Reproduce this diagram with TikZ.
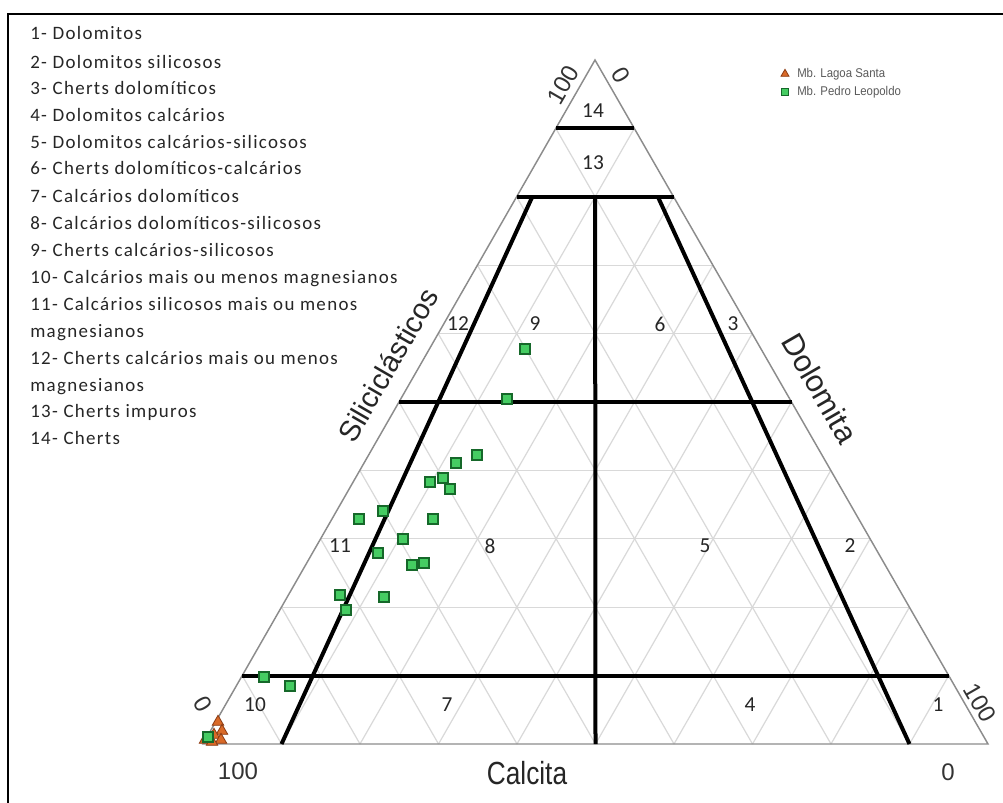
\documentclass[tikz,border=0pt]{standalone}
\usepackage{fontspec}
\setmainfont{Carlito}
\newfontfamily\legf[LetterSpace=7]{Carlito}
\newfontfamily\arialf{Liberation Sans}
\usetikzlibrary{shapes.geometric}
\definecolor{gridc}{HTML}{D9D9D9}
\definecolor{edgec}{HTML}{8C8C8C}
\definecolor{gfill}{HTML}{45CC62}
\definecolor{gdraw}{HTML}{16682A}
\definecolor{ofill}{HTML}{D96A28}
\definecolor{odraw}{HTML}{8A3A12}
\definecolor{legtxt}{HTML}{5A5A5A}
\tikzset{
  gridline/.style={draw=gridc, line width=0.9pt},
  edgeline/.style={draw=edgec, line width=1.1pt},
  bound/.style={draw=black, line width=3pt},
  legitem/.style={anchor=base west, inner sep=0pt, font=\legf\fontsize{14.2}{16}\selectfont, text=black!85},
  region/.style={inner sep=0pt, font=\fontsize{16}{18}\selectfont, text=black!85},
  axislab/.style={inner sep=0pt, font=\arialf\fontsize{24}{26}\selectfont, text=black!85},
  ticklab/.style={inner sep=0pt, font=\arialf\fontsize{18}{20}\selectfont, text=black!80},
  gpt/.style={rectangle, minimum size=7.8pt, inner sep=0pt, fill=gfill, draw=gdraw, line width=1.4pt},
  opt/.style={regular polygon, regular polygon sides=3, minimum size=10pt, inner sep=0pt, fill=ofill, draw=odraw, line width=0.6pt},
  smalllab/.style={anchor=west, inner sep=0pt, font=\arialf\fontsize{9.5}{11}\selectfont, text=legtxt, xscale=0.9}
}
\begin{document}
\begin{tikzpicture}[x=0.75pt,y=-0.75pt]
\useasboundingbox (0,0) rectangle (1003,803);
\fill[white] (0,0) rectangle (1003,803);
% frame
\draw[line width=2pt] (8,803) -- (8,14) -- (1003,14);

% legend
\foreach \yy/\tt in {39/{1- Dolomitos},68/{2- Dolomitos silicosos},94/{3- Cherts dolomíticos},121/{4- Dolomitos calcários},148/{5- Dolomitos calcários-silicosos},174/{6- Cherts dolomíticos-calcários},202/{7- Calcários dolomíticos},229/{8- Calcários dolomíticos-silicosos},256/{9- Cherts calcários-silicosos},283/{10- Calcários mais ou menos magnesianos},310/{11- Calcários silicosos mais ou menos},337/{magnesianos},364/{12- Cherts calcários mais ou menos},391/{magnesianos},417/{13- Cherts impuros},444/{14- Cherts}}
  \node[legitem] at (30,\yy) {\tt};

% triangle vertices
\coordinate (L) at (203,744);
\coordinate (R) at (988,744);
\coordinate (A) at (595,60);

% grid
\foreach \v in {0.1,0.2,0.3,0.4,0.5,0.6,0.7,0.8,0.9}{
  \pgfmathsetmacro\w{1-\v}
  \draw[gridline] (barycentric cs:A=\v,L=\w) -- (barycentric cs:A=\v,R=\w);
  \draw[gridline] (barycentric cs:R=\v,L=\w) -- (barycentric cs:R=\v,A=\w);
  \draw[gridline] (barycentric cs:L=\v,R=\w) -- (barycentric cs:L=\v,A=\w);
}
% outline
\draw[edgeline] (L) -- (R) -- (A) -- cycle;

% thick boundaries
\foreach \v in {0.9,0.8,0.5,0.1}{
  \pgfmathsetmacro\w{1-\v}
  \draw[bound] (barycentric cs:A=\v,L=\w) -- (barycentric cs:A=\v,R=\w);
}
\draw[bound] (barycentric cs:A=0.8,L=0.1,R=0.1) -- (barycentric cs:L=0.5,R=0.5);
\draw[bound] (barycentric cs:A=0.8,L=0.18,R=0.02) -- (barycentric cs:L=0.9,R=0.1);
\draw[bound] (barycentric cs:A=0.8,L=0.02,R=0.18) -- (barycentric cs:L=0.1,R=0.9);

% region numbers
\node[region] (r14) at (593,111) {14};
\node[region] (r13) at (593,163) {13};
\node[region] (r12) at (458,324) {12};
\node[region] (r9) at (535,324) {9};
\node[region] (r6) at (660,324) {6};
\node[region] (r3) at (733,324) {3};
\node[region] (r11) at (340,546) {11};
\node[region] (r8) at (490,546) {8};
\node[region] (r5) at (705,546) {5};
\node[region] (r2) at (850,546) {2};
\node[region] (r10) at (255,705) {10};
\node[region] (r7) at (447,705) {7};
\node[region] (r4) at (750,705) {4};
\node[region] (r1) at (938,705) {1};

% axis labels
\node[axislab, xscale=0.82] (calc) at (527,773) {Calcita};
\node[axislab, rotate=-60, font=\arialf\fontsize{23}{25}\selectfont] (dolo) at (820,388) {Dolomita};
\node[axislab, rotate=60, font=\arialf\fontsize{21.8}{24}\selectfont] (sili) at (388,365) {Siliciclásticos};

% tick labels
\node[ticklab, rotate=60] (t1) at (563,85) {100};
\node[ticklab, rotate=-60] (t2) at (621,75) {0};
\node[ticklab, rotate=-60] (t3) at (203,704) {0};
\node[ticklab] (t4) at (238,771) {100};
\node[ticklab] (t5) at (948,772) {0};
\node[ticklab, rotate=-60] (t6) at (980,703) {100};

% data: Lagoa Santa
\node[opt] (o1) at (218,722) {};
\node[opt] (o2) at (222,731) {};
\node[opt] (o3) at (214,735) {};
\node[opt] (o4) at (221,740) {};
\node[opt] (o5) at (205,740) {};
\node[opt] (o6) at (212,742) {};
% data: Pedro Leopoldo
\foreach \px/\py [count=\k] in {525/349,507/399,477/455,456/463,443/478,430/482,450/489,383/511,359/519,433/519,403/539,378/553,424/563,412/565,340/595,384/597,346/610,264/677,290/686,208/737}
  \node[gpt] (g\k) at (\px,\py) {};

% top-right legend
\node[opt, minimum size=7pt] (lo) at (785,74) {};
\node[smalllab] (llo) at (797,74) {Mb. Lagoa Santa};
\node[gpt, minimum size=5.5pt, line width=0.9pt] (lg) at (785,92) {};
\node[smalllab] (llg) at (797,92) {Mb. Pedro Leopoldo};
\end{tikzpicture}
\end{document}
